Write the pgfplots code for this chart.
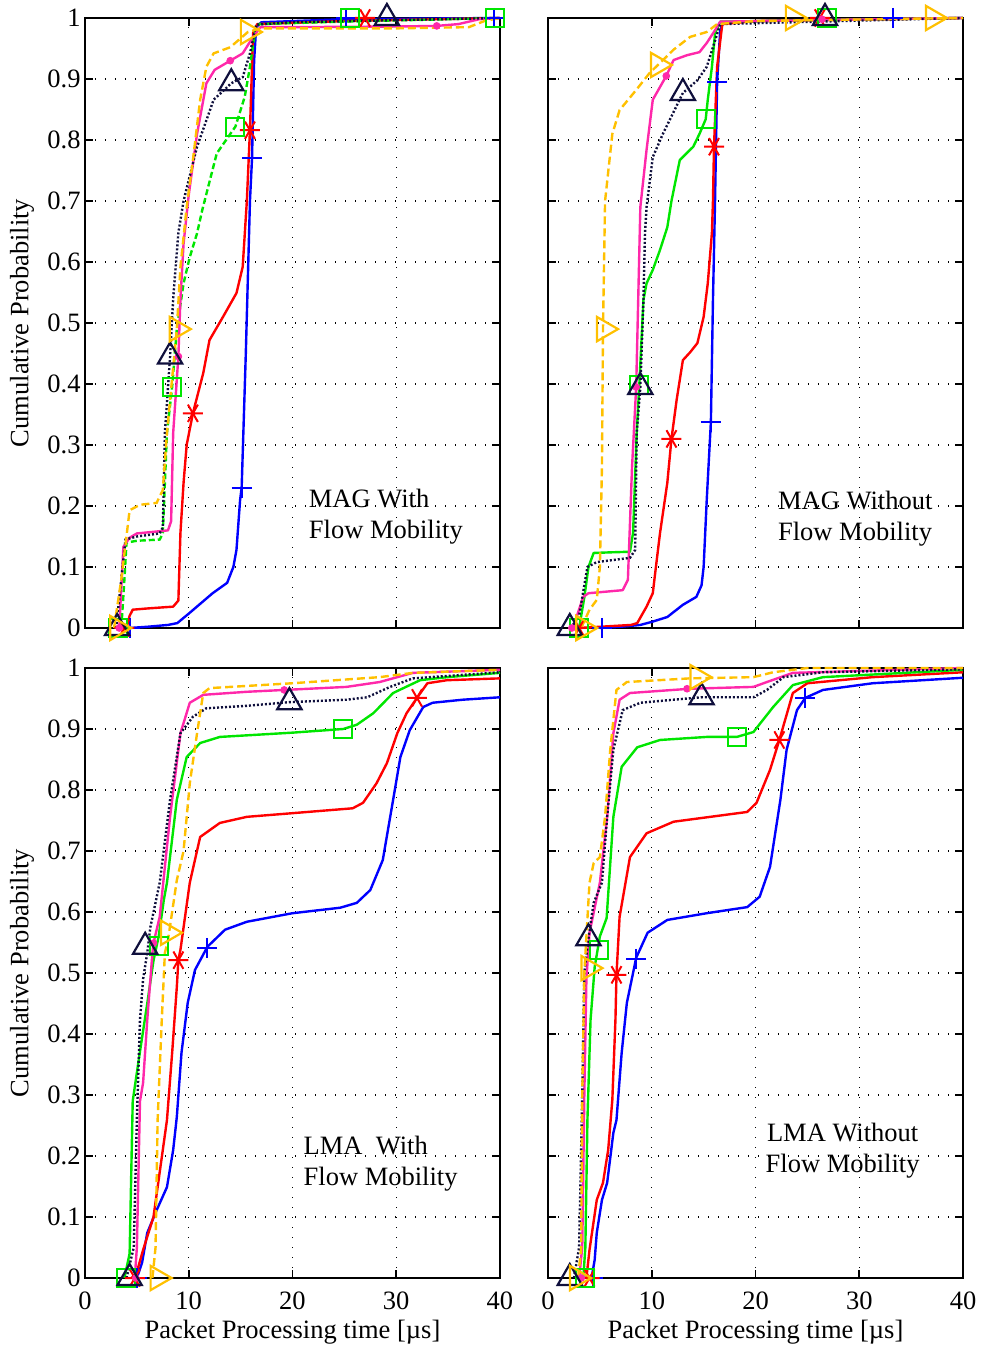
\documentclass[border=0pt]{standalone}
\usepackage{fontspec}
\setmainfont{Liberation Serif}
\usepackage{pgfplots}
\pgfplotsset{compat=1.18}
\definecolor{cblue}{RGB}{0,0,255}
\definecolor{cred}{RGB}{255,0,0}
\definecolor{cgreen}{RGB}{0,230,0}
\definecolor{cmag}{RGB}{255,40,170}
\definecolor{cnavy}{RGB}{15,15,60}
\definecolor{cyel}{RGB}{255,192,0}
\pgfplotsset{
  panel/.style={
    width=207.5pt, height=305pt, scale only axis,
    xmin=0, xmax=40, ymin=0, ymax=1,
    xtick={0,10,20,30,40},
    ytick={0,0.1,0.2,0.3,0.4,0.5,0.6,0.7,0.8,0.9,1},
    grid=major,
    major grid style={black, line width=0.6pt, dash pattern=on 0.6pt off 4.4pt},
    axis line style={black, line width=1.1pt},
    tick style={black, line width=0.8pt},
    major tick length=4pt,
    tick align=inside,
    xtick pos=both, ytick pos=both,
    clip=false,
    font=\fontsize{13.25}{15.5}\selectfont,
    /pgf/number format/assume math mode=true,
    xticklabel style={inner sep=0pt, anchor=north, yshift=-6.5pt},
    yticklabel style={inner sep=0pt, anchor=east, xshift=-2pt},
    every axis y label/.style={at={(axis description cs:-0.152,0.5)}, anchor=center, rotate=90},
    every axis x label/.style={at={(axis description cs:0.5,-0.0885)}, anchor=center},
  },
  lblue/.style={cblue, line width=1.2pt, solid, line join=round},
  lred/.style={cred, line width=1.2pt, solid, line join=round},
  lgreen/.style={cgreen, line width=1.2pt, solid, line join=round},
  lgreend/.style={cgreen, line width=1.2pt, dash pattern=on 3pt off 1.5pt},
  lmag/.style={cmag, line width=1.2pt, solid, line join=round},
  lnavy/.style={cnavy, line width=1.2pt, dash pattern=on 1pt off 1pt},
  lyel/.style={cyel, line width=1.2pt, dash pattern=on 4pt off 2pt},
  mblue/.style={only marks, cblue, mark=+, mark size=5pt, mark options={line width=1pt, solid}},
  mred/.style={only marks, cred, mark=asterisk, mark size=5pt, mark options={line width=1pt, solid, rotate=90}},
  mgreen/.style={only marks, cgreen, mark=square, mark size=4.5pt, mark options={line width=1pt, solid}},
  mmag/.style={only marks, cmag, mark=*, mark size=1.7pt, mark options={solid, fill=cmag}},
  mnavy/.style={only marks, cnavy, mark=triangle, mark size=7pt, mark options={line width=1.1pt, solid}},
  myel/.style={only marks, cyel, mark=triangle, mark size=7pt, mark options={line width=1.1pt, solid, rotate=-90}},
}
\begin{document}
\begin{tikzpicture}
\useasboundingbox (0,0) rectangle (490pt,674.5pt);
% ---------------- Top left: MAG With Flow Mobility
\begin{axis}[panel, at={(42.5pt,360.5pt)}, anchor=south west,
  xticklabels={}, ylabel={Cumulative Probability}]
\addplot[lblue] coordinates {(4.3,0) (6,0.002) (8,0.005) (8.9,0.008) (10.1,0.025) (12.3,0.057) (13.7,0.074) (14.3,0.10) (14.6,0.128) (14.95,0.21) (15.1,0.23) (15.5,0.45) (15.9,0.70) (16.1,0.77) (16.3,0.93) (16.5,0.985) (17,0.993) (25,0.998) (40,1.0)};
\addplot[lred] coordinates {(4.0,0) (4.3,0.02) (4.6,0.03) (6,0.032) (8.5,0.035) (9.0,0.045) (9.2,0.156) (9.5,0.238) (9.8,0.30) (10.4,0.352) (11.4,0.418) (12.0,0.472) (13.3,0.51) (14.6,0.549) (15.2,0.592) (15.6,0.70) (15.9,0.816) (16.2,0.975) (16.6,0.99) (25,0.995) (40,1.0)};
\addplot[lgreend] coordinates {(3.5,0) (3.8,0.08) (4.0,0.14) (5,0.143) (7.2,0.145) (7.5,0.155) (7.9,0.32) (8.4,0.395) (8.85,0.49) (9.5,0.565) (10.1,0.608) (10.8,0.647) (11.3,0.685) (12.7,0.778) (14.5,0.822) (15.4,0.871) (15.9,0.92) (16.4,0.98) (16.8,0.99) (25,0.994) (40,1.0)};
\addplot[lmag] coordinates {(3.3,0) (3.7,0.133) (4.3,0.148) (5.0,0.155) (8.0,0.16) (8.3,0.175) (8.5,0.32) (9.0,0.445) (9.2,0.54) (9.5,0.63) (10.0,0.71) (10.8,0.81) (11.7,0.893) (12.5,0.915) (14.0,0.93) (15.2,0.942) (16.2,0.969) (16.9,0.985) (20,0.985) (30,0.986) (33.9,0.987) (36,0.99) (38,0.998) (40,1.0)};
\addplot[lnavy] coordinates {(3.0,0) (3.5,0.08) (3.9,0.145) (5,0.15) (7.2,0.155) (7.5,0.165) (7.7,0.32) (8.2,0.445) (8.5,0.54) (9.0,0.648) (9.5,0.70) (10.8,0.789) (12.4,0.866) (14.1,0.893) (15.2,0.903) (15.9,0.942) (16.5,0.989) (20,0.993) (40,1.0)};
\addplot[lyel] coordinates {(2.8,0) (3.5,0.08) (4.3,0.193) (5.3,0.202) (6.9,0.205) (7.5,0.226) (7.9,0.32) (8.85,0.49) (9.2,0.592) (9.8,0.69) (10.4,0.767) (11.1,0.866) (11.7,0.92) (12.4,0.942) (14.0,0.952) (15.7,0.977) (16.9,0.983) (30,0.983) (37,0.985) (38.5,0.995) (40,1.0)};
\addplot[mblue] coordinates {(4.3,0) (15.1,0.23) (16.1,0.77) (25.2,1.0) (39.4,1.0)};
\addplot[mred] coordinates {(3.8,0) (10.4,0.352) (15.9,0.816) (27.0,1.0)};
\addplot[mgreen] coordinates {(3.2,0) (8.4,0.395) (14.5,0.822) (25.5,1.0) (39.5,1.0)};
\addplot[mmag] coordinates {(3.3,0) (9.0,0.445) (14.0,0.93) (33.9,0.987)};
\addplot[mnavy] coordinates {(3.1,0) (8.2,0.445) (14.1,0.893) (29.1,1.0)};
\addplot[myel] coordinates {(3.1,0) (8.85,0.49) (15.7,0.977)};
\node[anchor=west, align=left] at (axis cs:20.9,0.183) {MAG With\\Flow Mobility};
\end{axis}
% ---------------- Top right: MAG Without Flow Mobility
\begin{axis}[panel, at={(274pt,360.5pt)}, anchor=south west,
  xticklabels={}, yticklabels={}]
\addplot[lblue] coordinates {(5.0,0) (7,0.002) (8.9,0.005) (10,0.01) (11.5,0.018) (13.0,0.038) (14.3,0.051) (14.8,0.07) (15.0,0.10) (15.3,0.21) (15.7,0.338) (15.9,0.538) (16.1,0.70) (16.3,0.895) (16.6,0.98) (16.9,0.993) (25,0.997) (40,1.0)};
\addplot[lred] coordinates {(3.0,0) (4,0.001) (8,0.005) (8.6,0.008) (9.0,0.02) (9.5,0.035) (10.1,0.057) (10.4,0.10) (10.8,0.156) (11.5,0.238) (11.9,0.31) (12.4,0.374) (13.0,0.439) (13.7,0.452) (14.4,0.467) (15.0,0.51) (15.4,0.565) (15.8,0.648) (15.9,0.70) (16.0,0.789) (16.3,0.92) (16.8,0.99) (20,0.995) (40,1.0)};
\addplot[lgreen] coordinates {(3.0,0) (3.5,0.05) (3.9,0.10) (4.4,0.123) (6,0.124) (7.9,0.125) (8.2,0.156) (8.55,0.32) (8.8,0.398) (9.2,0.538) (9.5,0.565) (10.1,0.587) (10.8,0.62) (11.5,0.657) (11.9,0.70) (12.7,0.767) (14.0,0.789) (14.6,0.81) (15.2,0.834) (15.4,0.866) (15.8,0.92) (16.1,0.975) (16.6,0.994) (40,1.0)};
\addplot[lmag] coordinates {(2.4,0) (3.4,0.051) (3.9,0.057) (7.2,0.062) (7.7,0.079) (8.1,0.264) (8.5,0.395) (8.9,0.69) (9.5,0.784) (10.1,0.866) (11.4,0.905) (12.1,0.931) (13.4,0.939) (14.6,0.944) (15.3,0.959) (16.1,0.98) (16.6,0.994) (40,1.0)};
\addplot[lnavy] coordinates {(2.2,0) (3.0,0.02) (3.8,0.10) (4.7,0.108) (7.9,0.115) (8.4,0.128) (8.55,0.32) (8.9,0.395) (9.2,0.538) (9.35,0.648) (9.5,0.69) (10.1,0.772) (11.1,0.811) (13.0,0.877) (14.4,0.898) (15.3,0.92) (15.9,0.952) (16.6,0.99) (40,1.0)};
\addplot[lyel] coordinates {(3.2,0) (4.0,0.03) (4.7,0.046) (5.0,0.10) (5.2,0.264) (5.3,0.49) (5.5,0.70) (6.2,0.81) (6.9,0.849) (8.5,0.882) (9.8,0.91) (10.6,0.923) (12.1,0.948) (13.7,0.969) (15.3,0.977) (16.3,0.99) (20,0.995) (40,1.0)};
\addplot[mblue] coordinates {(5.2,0) (15.7,0.338) (16.3,0.895) (33.3,1.0)};
\addplot[mred] coordinates {(3.0,0) (11.9,0.31) (16.0,0.789) (26.2,1.0)};
\addplot[mgreen] coordinates {(3.0,0) (8.8,0.398) (15.2,0.834) (26.9,1.0)};
\addplot[mmag] coordinates {(2.3,0) (8.5,0.395) (11.4,0.905) (26.4,0.998)};
\addplot[mnavy] coordinates {(2.1,0) (8.9,0.395) (13.0,0.877) (26.7,1.0)};
\addplot[myel] coordinates {(3.4,0) (5.4,0.49) (10.6,0.923) (23.6,1.0) (37.1,1.0)};
\node[anchor=west, align=left] at (axis cs:21.5,0.179) {MAG Without\\Flow Mobility};
\end{axis}
% ---------------- Bottom left: LMA With Flow Mobility
\begin{axis}[panel, at={(42.5pt,35.5pt)}, anchor=south west,
  ylabel={Cumulative Probability}, xlabel={Packet Processing time [µs]}]
\addplot[lblue] coordinates {(5.0,0) (5.5,0.025) (6.0,0.074) (6.9,0.111) (7.9,0.149) (8.5,0.21) (8.85,0.264) (9.3,0.369) (9.9,0.451) (10.6,0.505) (11.8,0.543) (13.5,0.571) (15.6,0.584) (20.0,0.598) (24.6,0.607) (26.2,0.615) (27.5,0.636) (28.7,0.685) (29.7,0.784) (30.4,0.854) (31.3,0.898) (32.6,0.936) (33.5,0.943) (36.4,0.948) (40,0.952)};
\addplot[lred] coordinates {(4.5,0) (5.0,0.01) (5.6,0.046) (6.6,0.10) (7.5,0.21) (7.9,0.259) (8.4,0.369) (8.85,0.477) (9.0,0.521) (9.2,0.538) (10.1,0.648) (11.1,0.723) (13.0,0.746) (15.6,0.756) (20.0,0.762) (25.8,0.770) (26.8,0.779) (28.1,0.811) (29.1,0.844) (30.1,0.893) (31.0,0.926) (32.0,0.951) (33.0,0.975) (34.9,0.980) (40,0.983)};
\addplot[lgreen] coordinates {(3.8,0) (4.3,0.04) (4.6,0.29) (5.2,0.36) (6.0,0.45) (6.6,0.52) (7.1,0.56) (7.6,0.62) (7.9,0.648) (8.85,0.784) (9.8,0.854) (11.1,0.877) (13.0,0.887) (20.0,0.894) (24.9,0.9) (26.2,0.907) (27.8,0.926) (29.7,0.959) (32.3,0.980) (34.9,0.985) (40,0.992)};
\addplot[lmag] coordinates {(4.8,0) (5.0,0.05) (5.3,0.29) (5.6,0.32) (6.0,0.423) (6.5,0.533) (6.6,0.549) (7.2,0.592) (8.2,0.756) (9.2,0.893) (10.1,0.943) (11.4,0.956) (15.6,0.961) (19.2,0.964) (25.2,0.969) (28.4,0.977) (31.6,0.992) (40,0.997)};
\addplot[lnavy] coordinates {(4.0,0) (4.7,0.05) (5.0,0.26) (5.3,0.423) (5.6,0.49) (6.0,0.533) (6.3,0.575) (7.2,0.648) (8.2,0.784) (9.2,0.893) (10.4,0.920) (11.7,0.934) (15.6,0.938) (19.7,0.944) (25.2,0.948) (27.2,0.952) (29.4,0.969) (31.6,0.983) (40,0.993)};
\addplot[lyel] coordinates {(6.5,0) (6.8,0.05) (7.0,0.259) (7.4,0.423) (7.7,0.533) (8.0,0.554) (8.85,0.652) (9.5,0.70) (10.1,0.811) (10.8,0.893) (11.4,0.959) (12.0,0.967) (20.0,0.975) (28.4,0.985) (31.6,0.992) (40,0.997)};
\addplot[mblue] coordinates {(5.0,0) (11.8,0.541)};
\addplot[mred] coordinates {(4.8,0) (9.0,0.521) (32.0,0.951)};
\addplot[mgreen] coordinates {(4.0,0) (7.1,0.545) (24.9,0.9)};
\addplot[mmag] coordinates {(4.9,0) (6.6,0.549) (19.2,0.964)};
\addplot[mnavy] coordinates {(4.3,0) (5.8,0.543) (19.7,0.944)};
\addplot[myel] coordinates {(7.0,0) (8.0,0.566)};
\node[anchor=west, align=left] at (axis cs:20.4,0.188) {LMA\ \ With\\Flow Mobility};
\end{axis}
% ---------------- Bottom right: LMA Without Flow Mobility
\begin{axis}[panel, at={(274pt,35.5pt)}, anchor=south west,
  yticklabels={}, xlabel={Packet Processing time [µs]}]
\addplot[lblue] coordinates {(4.2,0) (4.5,0.03) (4.7,0.074) (5.2,0.128) (5.7,0.156) (6.3,0.238) (6.6,0.259) (7.1,0.369) (7.6,0.451) (8.1,0.492) (8.5,0.525) (9.6,0.566) (11.5,0.587) (15.3,0.598) (19.2,0.608) (20.4,0.625) (21.4,0.674) (22.4,0.784) (23.0,0.866) (24.0,0.931) (24.8,0.951) (26.5,0.964) (31.3,0.975) (40,0.984)};
\addplot[lred] coordinates {(3.7,0) (4.0,0.046) (4.7,0.128) (5.3,0.156) (5.8,0.21) (6.2,0.292) (6.5,0.423) (6.6,0.497) (6.9,0.592) (7.9,0.69) (9.5,0.729) (12.1,0.748) (19.2,0.764) (20.1,0.779) (21.4,0.833) (22.3,0.882) (23.6,0.959) (25.0,0.975) (31.3,0.985) (40,0.993)};
\addplot[lgreen] coordinates {(3.4,0) (3.6,0.05) (3.8,0.259) (4.1,0.423) (4.5,0.51) (5.0,0.56) (5.65,0.59) (6.3,0.756) (7.1,0.838) (8.6,0.870) (10.8,0.882) (15.3,0.887) (18.2,0.887) (19.8,0.895) (21.7,0.936) (23.6,0.972) (26.5,0.985) (40,0.997)};
\addplot[lmag] coordinates {(3.0,0) (3.3,0.05) (3.5,0.3) (3.7,0.49) (4.0,0.566) (5.0,0.648) (5.7,0.756) (6.3,0.893) (6.9,0.948) (7.9,0.959) (13.7,0.966) (19.8,0.969) (21.1,0.977) (23.6,0.992) (40,1.0)};
\addplot[lnavy] coordinates {(2.5,0) (3.0,0.05) (3.3,0.3) (3.5,0.5) (3.9,0.557) (4.4,0.615) (5.2,0.648) (5.7,0.756) (6.3,0.866) (7.2,0.931) (8.9,0.943) (12.1,0.948) (14.8,0.952) (19.8,0.952) (21.1,0.964) (22.7,0.985) (26.5,0.993) (40,0.998)};
\addplot[lyel] coordinates {(2.9,0) (3.2,0.05) (3.3,0.3) (3.5,0.5) (4.0,0.648) (4.4,0.68) (5.0,0.69) (5.5,0.756) (6.0,0.866) (6.6,0.964) (7.6,0.977) (13.7,0.983) (19.8,0.985) (21.7,0.993) (25.0,1.0) (40,1.0)};
\addplot[mblue] coordinates {(4.3,0) (8.5,0.523) (24.8,0.951)};
\addplot[mred] coordinates {(4.0,0) (6.6,0.497) (22.3,0.882)};
\addplot[mgreen] coordinates {(3.6,0) (4.9,0.538) (18.2,0.887)};
\addplot[mmag] coordinates {(3.2,0) (13.4,0.966)};
\addplot[mnavy] coordinates {(2.1,0) (3.9,0.557) (14.8,0.952)};
\addplot[myel] coordinates {(2.8,0) (3.9,0.508) (14.4,0.985)};
\node[align=center] at (axis cs:28.4,0.208) {LMA Without\\Flow Mobility};
\end{axis}
\end{tikzpicture}
\end{document}
